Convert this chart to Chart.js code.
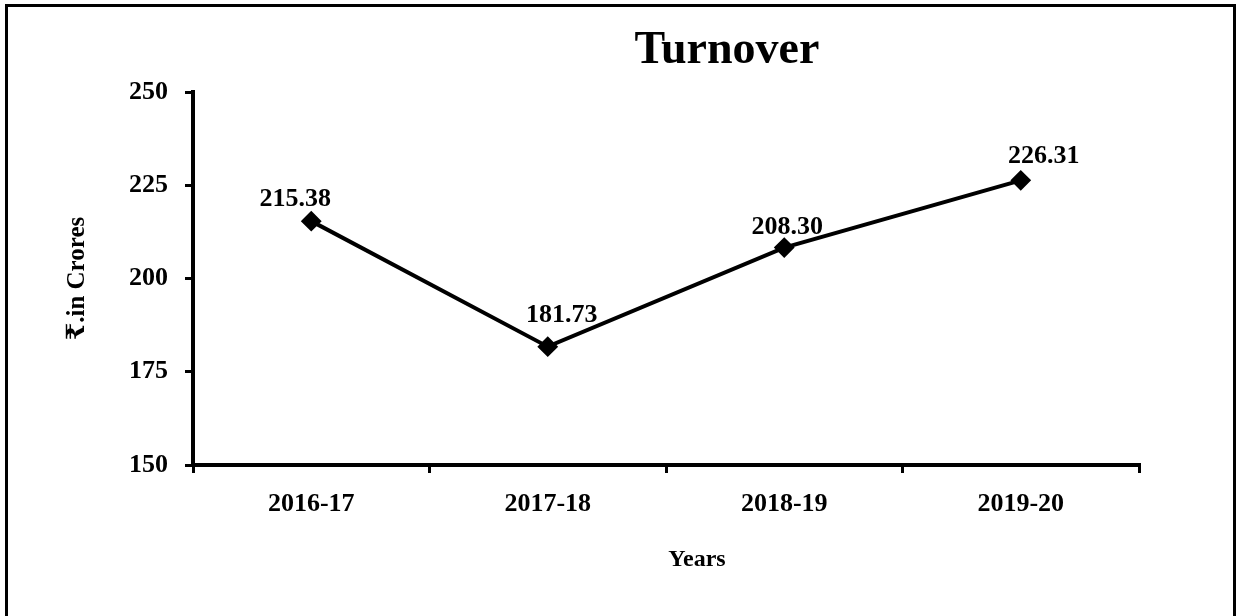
<!DOCTYPE html>
<html>
<head>
<meta charset="utf-8">
<title>Turnover</title>
<script src="https://cdn.jsdelivr.net/npm/chart.js@4.4.1/dist/chart.umd.min.js"></script>
<style>
  html, body { margin: 0; padding: 0; background: #fff; overflow: hidden; }
  canvas { display: block; }
</style>
</head>
<body>
<canvas id="turnover-chart" width="1236" height="616"></canvas>
<script>
// Chart data
var years = ['2016-17', '2017-18', '2018-19', '2019-20'];
var turnover = [215.38, 181.73, 208.30, 226.31];
var yTicks = [150, 175, 200, 225, 250];

var serif = "'Liberation Serif', 'Times New Roman', 'DejaVu Serif', serif";

// Frame, title and x axis caption drawn on the canvas
var framePlugin = {
  id: 'frame',
  beforeDraw: function(chart) {
    var ctx = chart.ctx;
    ctx.save();
    ctx.fillStyle = '#fff';
    ctx.fillRect(0, 0, chart.width, chart.height);
    ctx.strokeStyle = '#000';
    ctx.lineWidth = 3;
    ctx.strokeRect(6.5, 5.5, 1228, 800);
    ctx.restore();
  },
  afterDraw: function(chart) {
    var ctx = chart.ctx;
    ctx.save();
    ctx.fillStyle = '#000';
    ctx.textAlign = 'center';
    ctx.textBaseline = 'alphabetic';
    ctx.font = 'bold 46px ' + serif;
    ctx.fillText('Turnover', 727, 63);
    ctx.font = 'bold 24px ' + serif;
    ctx.fillText('Years', 697, 566);
    ctx.restore();
  }
};

// Value labels above each point
var valueLabels = {
  id: 'valueLabels',
  afterDatasetsDraw: function(chart, args, opts) {
    var ctx = chart.ctx;
    var meta = chart.getDatasetMeta(0);
    ctx.save();
    ctx.fillStyle = '#000';
    ctx.font = 'bold 26px ' + serif;
    ctx.textAlign = 'center';
    ctx.textBaseline = 'alphabetic';
    meta.data.forEach(function(pt, i) {
      var shift = opts.shifts[i];
      ctx.fillText(turnover[i].toFixed(2), pt.x + shift[0], pt.y - shift[1]);
    });
    ctx.restore();
  }
};

var ctx = document.getElementById('turnover-chart').getContext('2d');
var chart = new Chart(ctx, {
  type: 'line',
  data: {
    labels: years,
    datasets: [{
      data: turnover,
      borderColor: '#000',
      backgroundColor: '#000',
      borderWidth: 4,
      pointStyle: 'rectRot',
      pointRadius: 9,
      pointBorderWidth: 2,
      pointBackgroundColor: '#000',
      pointBorderColor: '#000',
      tension: 0
    }]
  },
  options: {
    responsive: false,
    animation: false,
    devicePixelRatio: 1,
    layout: {
      padding: { top: 92, right: 97, left: 0, bottom: 0 }
    },
    plugins: {
      legend: { display: false },
      tooltip: { enabled: false },
      title: { display: false },
      valueLabels: {
        shifts: [[-16, 15], [14, 25], [3, 14], [23, 17]]
      }
    },
    scales: {
      x: {
        offset: true,
        grid: {
          offset: true,
          drawOnChartArea: false,
          drawTicks: true,
          tickLength: 8,
          color: '#000',
          lineWidth: 3
        },
        border: { color: '#000', width: 4 },
        ticks: {
          color: '#000',
          padding: 16,
          font: { family: serif, size: 26, weight: 'bold' }
        },
        afterFit: function(scale) { scale.height = 151; }
      },
      y: {
        min: 150,
        max: 250,
        afterBuildTicks: function(scale) {
          scale.ticks = yTicks.map(function(v) { return { value: v }; });
        },
        grid: {
          drawOnChartArea: false,
          drawTicks: true,
          tickLength: 8,
          color: '#000',
          lineWidth: 3
        },
        border: { color: '#000', width: 4 },
        ticks: {
          color: '#000',
          padding: 17,
          font: { family: serif, size: 26, weight: 'bold' }
        },
        title: {
          display: true,
          text: '₹.in Crores',
          color: '#000',
          padding: { top: 63, bottom: 0 },
          font: { family: serif, size: 25, weight: 'bold' }
        },
        afterFit: function(scale) { scale.width = 193; }
      }
    }
  },
  plugins: [framePlugin, valueLabels]
});
</script>
</body>
</html>
